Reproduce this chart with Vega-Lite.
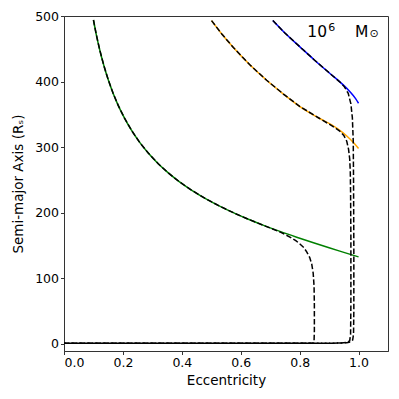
{
  "$schema": "https://vega.github.io/schema/vega-lite/v6.json",
  "autosize": {"type": "none"},
  "width": 324,
  "height": 335,
  "padding": {"left": 64, "top": 16, "right": 11, "bottom": 48},
  "background": "white",
  "config": {
    "font": "DejaVu Sans",
    "view": {"stroke": "#333", "strokeWidth": 1},
    "axis": {
      "grid": false,
      "domainColor": "#333",
      "tickColor": "#333",
      "tickSize": 3.5,
      "labelColor": "black",
      "titleColor": "black",
      "labelFontSize": 12.5,
      "titleFontSize": 13.5,
      "titleFontWeight": "normal",
      "labelPadding": 2
    }
  },
  "datasets": {
    "solid": [
      {"s": "g", "e": 0.1, "a": 493.9}, {"s": "g", "e": 0.11, "a": 470.9}, {"s": "g", "e": 0.122, "a": 447.1},
      {"s": "g", "e": 0.135, "a": 425.0}, {"s": "g", "e": 0.15, "a": 403.1}, {"s": "g", "e": 0.167, "a": 381.9},
      {"s": "g", "e": 0.184, "a": 363.8}, {"s": "g", "e": 0.205, "a": 344.6}, {"s": "g", "e": 0.23, "a": 325.1},
      {"s": "g", "e": 0.257, "a": 307.3}, {"s": "g", "e": 0.286, "a": 291.1}, {"s": "g", "e": 0.32, "a": 274.7},
      {"s": "g", "e": 0.354, "a": 260.8}, {"s": "g", "e": 0.39, "a": 247.9}, {"s": "g", "e": 0.43, "a": 235.4},
      {"s": "g", "e": 0.479, "a": 222.0}, {"s": "g", "e": 0.53, "a": 209.8}, {"s": "g", "e": 0.58, "a": 199.1},
      {"s": "g", "e": 0.62, "a": 191.3}, {"s": "g", "e": 0.68, "a": 180.5}, {"s": "g", "e": 0.733, "a": 171.6},
      {"s": "g", "e": 0.79, "a": 162.7}, {"s": "g", "e": 0.847, "a": 154.2}, {"s": "g", "e": 0.9, "a": 146.6},
      {"s": "g", "e": 0.95, "a": 139.7}, {"s": "g", "e": 1.0, "a": 132.8},
      {"s": "o", "e": 0.501, "a": 493}, {"s": "o", "e": 0.535, "a": 473}, {"s": "o", "e": 0.575, "a": 452},
      {"s": "o", "e": 0.63, "a": 426}, {"s": "o", "e": 0.688, "a": 402}, {"s": "o", "e": 0.745, "a": 381},
      {"s": "o", "e": 0.801, "a": 362}, {"s": "o", "e": 0.865, "a": 344.5}, {"s": "o", "e": 0.926, "a": 329},
      {"s": "o", "e": 0.96, "a": 317}, {"s": "o", "e": 0.985, "a": 306}, {"s": "o", "e": 1.0, "a": 298},
      {"s": "b", "e": 0.709, "a": 493}, {"s": "b", "e": 0.75, "a": 474}, {"s": "b", "e": 0.801, "a": 453},
      {"s": "b", "e": 0.85, "a": 433}, {"s": "b", "e": 0.9, "a": 413.5}, {"s": "b", "e": 0.948, "a": 395},
      {"s": "b", "e": 0.97, "a": 385}, {"s": "b", "e": 0.99, "a": 374}, {"s": "b", "e": 1.0, "a": 367}
    ],
    "dashed": [
      {"t": 1, "i": 1, "e": 0.1, "a": 493.9}, {"t": 1, "i": 2, "e": 0.11, "a": 470.9}, {"t": 1, "i": 3, "e": 0.122, "a": 447.1},
      {"t": 1, "i": 4, "e": 0.135, "a": 425.0}, {"t": 1, "i": 5, "e": 0.15, "a": 403.1}, {"t": 1, "i": 6, "e": 0.167, "a": 381.9},
      {"t": 1, "i": 7, "e": 0.184, "a": 363.8}, {"t": 1, "i": 8, "e": 0.205, "a": 344.6}, {"t": 1, "i": 9, "e": 0.23, "a": 325.1},
      {"t": 1, "i": 10, "e": 0.257, "a": 307.3}, {"t": 1, "i": 11, "e": 0.286, "a": 291.1}, {"t": 1, "i": 12, "e": 0.32, "a": 274.7},
      {"t": 1, "i": 13, "e": 0.354, "a": 260.8}, {"t": 1, "i": 14, "e": 0.39, "a": 247.9}, {"t": 1, "i": 15, "e": 0.43, "a": 235.4},
      {"t": 1, "i": 16, "e": 0.479, "a": 222.0}, {"t": 1, "i": 17, "e": 0.53, "a": 209.8}, {"t": 1, "i": 18, "e": 0.58, "a": 199.1},
      {"t": 1, "i": 19, "e": 0.62, "a": 191.3}, {"t": 1, "i": 20, "e": 0.68, "a": 180.3}, {"t": 1, "i": 21, "e": 0.733, "a": 170.8},
      {"t": 1, "i": 22, "e": 0.767, "a": 163}, {"t": 1, "i": 23, "e": 0.787, "a": 157.5}, {"t": 1, "i": 24, "e": 0.801, "a": 152.5},
      {"t": 1, "i": 25, "e": 0.814, "a": 147}, {"t": 1, "i": 26, "e": 0.824, "a": 140.5}, {"t": 1, "i": 27, "e": 0.834, "a": 132},
      {"t": 1, "i": 28, "e": 0.841, "a": 122}, {"t": 1, "i": 29, "e": 0.846, "a": 108}, {"t": 1, "i": 30, "e": 0.849, "a": 88},
      {"t": 1, "i": 31, "e": 0.85, "a": 60}, {"t": 1, "i": 32, "e": 0.85, "a": 20}, {"t": 1, "i": 33, "e": 0.849, "a": 5},
      {"t": 1, "i": 34, "e": 0.845, "a": 1.5}, {"t": 1, "i": 35, "e": 0.82, "a": 1}, {"t": 1, "i": 36, "e": 0.0, "a": 1},
      {"t": 2, "i": 1, "e": 0.501, "a": 493}, {"t": 2, "i": 2, "e": 0.535, "a": 473}, {"t": 2, "i": 3, "e": 0.575, "a": 452},
      {"t": 2, "i": 4, "e": 0.63, "a": 426}, {"t": 2, "i": 5, "e": 0.688, "a": 402}, {"t": 2, "i": 6, "e": 0.745, "a": 381},
      {"t": 2, "i": 7, "e": 0.801, "a": 362}, {"t": 2, "i": 8, "e": 0.865, "a": 344.5}, {"t": 2, "i": 9, "e": 0.91, "a": 332.5},
      {"t": 2, "i": 10, "e": 0.935, "a": 325}, {"t": 2, "i": 11, "e": 0.95, "a": 318}, {"t": 2, "i": 12, "e": 0.96, "a": 309},
      {"t": 2, "i": 13, "e": 0.966, "a": 297}, {"t": 2, "i": 14, "e": 0.97, "a": 282}, {"t": 2, "i": 15, "e": 0.972, "a": 262},
      {"t": 2, "i": 16, "e": 0.973, "a": 230}, {"t": 2, "i": 17, "e": 0.974, "a": 160}, {"t": 2, "i": 18, "e": 0.974, "a": 60},
      {"t": 2, "i": 19, "e": 0.973, "a": 15}, {"t": 2, "i": 20, "e": 0.97, "a": 5}, {"t": 2, "i": 21, "e": 0.962, "a": 2.5},
      {"t": 2, "i": 22, "e": 0.94, "a": 1.5}, {"t": 2, "i": 23, "e": 0.9, "a": 1}, {"t": 2, "i": 24, "e": 0.0, "a": 1},
      {"t": 3, "i": 1, "e": 0.709, "a": 493}, {"t": 3, "i": 2, "e": 0.75, "a": 474}, {"t": 3, "i": 3, "e": 0.801, "a": 453},
      {"t": 3, "i": 4, "e": 0.85, "a": 433}, {"t": 3, "i": 5, "e": 0.9, "a": 413.5}, {"t": 3, "i": 6, "e": 0.935, "a": 400},
      {"t": 3, "i": 7, "e": 0.952, "a": 392}, {"t": 3, "i": 8, "e": 0.965, "a": 382}, {"t": 3, "i": 9, "e": 0.974, "a": 366},
      {"t": 3, "i": 10, "e": 0.979, "a": 345}, {"t": 3, "i": 11, "e": 0.982, "a": 310}, {"t": 3, "i": 12, "e": 0.983, "a": 250},
      {"t": 3, "i": 13, "e": 0.984, "a": 150}, {"t": 3, "i": 14, "e": 0.984, "a": 50}, {"t": 3, "i": 15, "e": 0.983, "a": 15},
      {"t": 3, "i": 16, "e": 0.98, "a": 6}, {"t": 3, "i": 17, "e": 0.972, "a": 3}, {"t": 3, "i": 18, "e": 0.96, "a": 2},
      {"t": 3, "i": 19, "e": 0.94, "a": 1.5}, {"t": 3, "i": 20, "e": 0.9, "a": 1}, {"t": 3, "i": 21, "e": 0.0, "a": 1}
    ],
    "labels": [
      {"e": 0.826, "a": 467.5, "txt": "10", "k": "big"},
      {"e": 0.897, "a": 477, "txt": "6", "k": "small"},
      {"e": 0.988, "a": 467.5, "txt": "M", "k": "big"},
      {"e": 1.037, "a": 468, "txt": "⊙", "k": "small"}
    ]
  },
  "layer": [
    {
      "data": {"name": "solid"},
      "mark": {"type": "line", "strokeWidth": 1.5, "interpolate": "monotone"},
      "encoding": {
        "x": {"field": "e", "type": "quantitative", "scale": {"domain": [0, 1.1], "nice": false, "zero": false},
              "axis": {"title": "Eccentricity", "values": [0, 0.2, 0.4, 0.6, 0.8, 1.0], "format": ".1f", "titlePadding": 4}},
        "y": {"field": "a", "type": "quantitative", "scale": {"domain": [-10.7, 500], "nice": false, "zero": false},
              "axis": {"title": "Semi-major Axis (Rₛ)", "values": [0, 100, 200, 300, 400, 500], "titlePadding": 9}},
        "color": {"field": "s", "type": "nominal", "scale": {"domain": ["g", "o", "b"], "range": ["#008000", "#FFA500", "#0000FF"]}, "legend": null}
      }
    },
    {
      "data": {"name": "dashed"},
      "mark": {"type": "line", "strokeWidth": 1.5, "color": "black", "strokeDash": [5.5, 2.4]},
      "encoding": {
        "x": {"field": "e", "type": "quantitative"},
        "y": {"field": "a", "type": "quantitative"},
        "detail": {"field": "t", "type": "nominal"},
        "order": {"field": "i", "type": "quantitative"}
      }
    },
    {
      "data": {"name": "labels"},
      "transform": [{"filter": "datum.k == 'big'"}],
      "mark": {"type": "text", "align": "left", "baseline": "alphabetic", "fontSize": 15.5, "color": "black"},
      "encoding": {
        "x": {"field": "e", "type": "quantitative"},
        "y": {"field": "a", "type": "quantitative"},
        "text": {"field": "txt"}
      }
    },
    {
      "data": {"name": "labels"},
      "transform": [{"filter": "datum.k == 'small'"}],
      "mark": {"type": "text", "align": "left", "baseline": "alphabetic", "fontSize": 11, "color": "black"},
      "encoding": {
        "x": {"field": "e", "type": "quantitative"},
        "y": {"field": "a", "type": "quantitative"},
        "text": {"field": "txt"}
      }
    }
  ]
}
